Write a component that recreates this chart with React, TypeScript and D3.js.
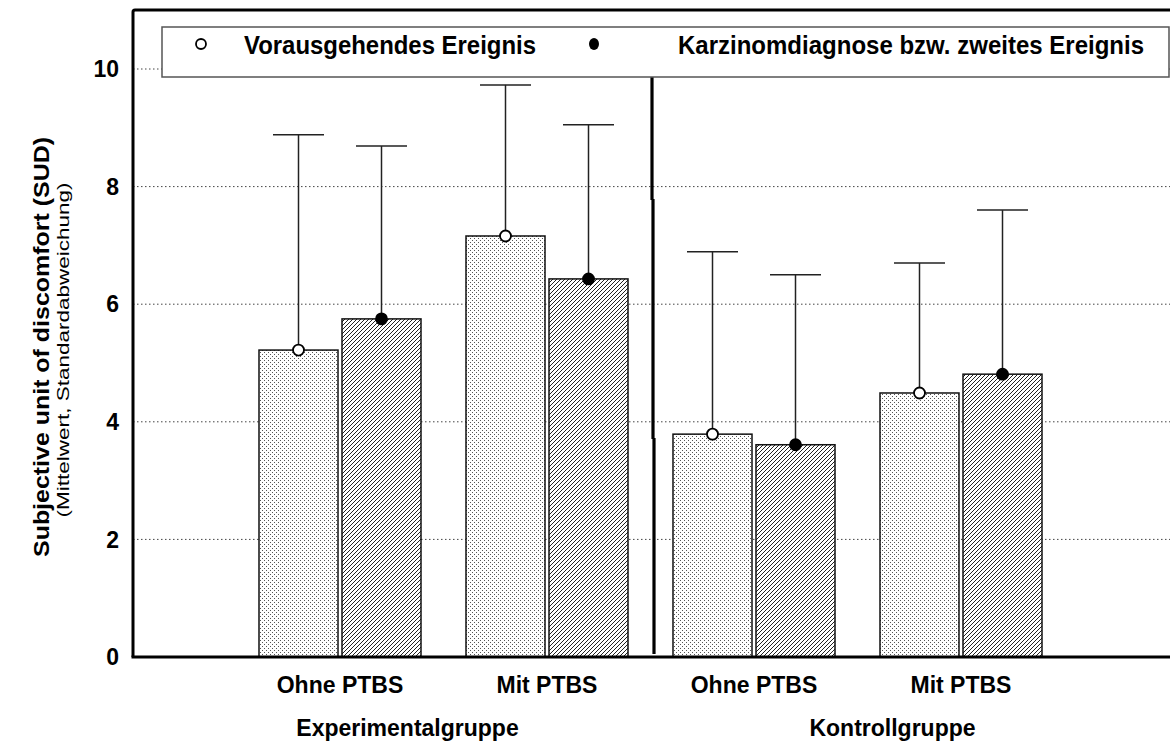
import React from "react";
import * as d3 from "d3";

const categories = ["Ohne PTBS", "Mit PTBS", "Ohne PTBS", "Mit PTBS"];
const groups = ["Experimentalgruppe", "Kontrollgruppe"];
const seriesNames = ["Vorausgehendes Ereignis", "Karzinomdiagnose bzw. zweites Ereignis"];
const preMean = [5.22, 7.16, 3.79, 4.49];
const preSD = [3.66, 2.57, 3.1, 2.21];
const postMean = [5.75, 6.43, 3.61, 4.81];
const postSD = [2.94, 2.62, 2.89, 2.79];
const yTicks = [0, 2, 4, 6, 8, 10];

const W = 1170;
const H = 747;
const left = 133;
const top = 10;
const bottom = 657;
const FONT = "'Liberation Sans', Arial, sans-serif";

export default function App() {
  const y = d3.scaleLinear().domain([0, 10]).range([bottom, 69]);
  const x = d3.scaleLinear().domain([0, 5]).range([left, 1168]);
  const barW = 79;
  const gap = 2;
  const cap = 51;

  const bars: any[] = [];
  categories.forEach((c, i) => {
    const cx = x(i + 1);
    bars.push({ x0: cx - gap - barW, mean: preMean[i], sd: preSD[i], kind: "pre", key: "pre" + i });
    bars.push({ x0: cx + gap, mean: postMean[i], sd: postSD[i], kind: "post", key: "post" + i });
  });

  const divX = x(2.5);
  const groupOffsets = [-36, 35];

  return (
    <svg
      width={W}
      height={H}
      style={{ position: "absolute", left: 0, top: 0, background: "#fff" }}
      fontFamily={FONT}
    >
      <defs>
        <pattern id="dots" width="4" height="4" patternUnits="userSpaceOnUse">
          <rect width="4" height="4" fill="#fff" />
          <rect x="0" y="0" width="1" height="1" fill="#555" />
          <rect x="2" y="2" width="1" height="1" fill="#555" />
        </pattern>
        <pattern id="hatch" width="4" height="4" patternUnits="userSpaceOnUse">
          <rect width="4" height="4" fill="#fff" />
          <path d="M-1,1 l2,-2 M0,4 l4,-4 M3,5 l2,-2" stroke="#222" strokeWidth="1" />
        </pattern>
      </defs>
      <rect width={W} height={H} fill="#fff" />

      {/* gridlines */}
      {yTicks.filter((t) => t > 0).map((t) => (
        <line
          key={"g" + t}
          x1={left}
          x2={W}
          y1={y(t)}
          y2={y(t)}
          stroke="#444"
          strokeWidth={1}
          strokeDasharray="1.5,2.5"
        />
      ))}

      {/* bars */}
      {bars.map((b) => (
        <rect
          key={b.key}
          x={b.x0}
          y={y(b.mean)}
          width={barW}
          height={bottom - y(b.mean)}
          fill={b.kind === "pre" ? "url(#dots)" : "url(#hatch)"}
          stroke="#111"
          strokeWidth={1.5}
        />
      ))}

      {/* error bars */}
      {bars.map((b) => {
        const cx = b.x0 + barW / 2;
        return (
          <g key={"e" + b.key} stroke="#222" strokeWidth={1.5}>
            <line x1={cx} x2={cx} y1={y(b.mean)} y2={y(b.mean + b.sd)} />
            <line x1={cx - cap / 2} x2={cx + cap / 2} y1={y(b.mean + b.sd)} y2={y(b.mean + b.sd)} />
          </g>
        );
      })}

      {/* markers */}
      {bars.map((b) => (
        <circle
          key={"m" + b.key}
          cx={b.x0 + barW / 2}
          cy={y(b.mean)}
          r={5.5}
          fill={b.kind === "pre" ? "#fff" : "#000"}
          stroke="#000"
          strokeWidth={1.8}
        />
      ))}

      {/* divider */}
      <g stroke="#000" strokeWidth={3.2}>
        <line x1={divX + 1.5} x2={divX + 1.5} y1={77} y2={200} />
        <line x1={divX + 2.5} x2={divX + 2.5} y1={199} y2={439} />
        <line x1={divX + 3.5} x2={divX + 3.5} y1={438} y2={654} />
      </g>

      {/* legend */}
      <rect x={162} y={27} width={1007} height={50} fill="#fff" stroke="#555" strokeWidth={1.5} />
      <circle cx={201} cy={44} r={5} fill="#fff" stroke="#000" strokeWidth={1.8} />
      <text
        x={244}
        y={54}
        fontSize={25}
        fontWeight="bold"
        fill="#000"
        textLength={292}
        lengthAdjust="spacingAndGlyphs"
      >
        {seriesNames[0]}
      </text>
      <ellipse cx={594} cy={44} rx={5} ry={6} fill="#000" />
      <text
        x={678}
        y={54}
        fontSize={25}
        fontWeight="bold"
        fill="#000"
        textLength={466}
        lengthAdjust="spacingAndGlyphs"
      >
        {seriesNames[1]}
      </text>

      {/* frame */}
      <path
        d={`M${left},${bottom} L${left},${top + 2} Q${left},${top} ${left + 2},${top} L${W},${top}`}
        fill="none"
        stroke="#000"
        strokeWidth={3}
      />
      <line x1={left - 1.5} x2={W} y1={bottom} y2={bottom} stroke="#000" strokeWidth={3} />

      {/* y ticks */}
      {yTicks.map((t) => (
        <text
          key={"t" + t}
          x={119}
          y={y(t)}
          dy="0.36em"
          textAnchor="end"
          fontSize={23}
          fontWeight="bold"
          fill="#000"
        >
          {t}
        </text>
      ))}

      {/* y title */}
      <text
        transform={`translate(49,347) rotate(-90)`}
        textAnchor="middle"
        fontSize={22}
        fontWeight="bold"
        fill="#000"
        textLength={420}
        lengthAdjust="spacingAndGlyphs"
      >
        Subjective unit of discomfort (SUD)
      </text>
      <text
        transform={`translate(69,350) rotate(-90)`}
        textAnchor="middle"
        fontSize={17}
        fill="#000"
        textLength={335}
        lengthAdjust="spacingAndGlyphs"
      >
        (Mittelwert, Standardabweichung)
      </text>

      {/* x labels */}
      {categories.map((c, i) => (
        <text
          key={"c" + i}
          x={x(i + 1)}
          y={693}
          textAnchor="middle"
          fontSize={23}
          fontWeight="bold"
          fill="#000"
        >
          {c}
        </text>
      ))}
      {groups.map((g, i) => (
        <text
          key={"gr" + i}
          x={x(1.5 + 2 * i) + groupOffsets[i]}
          y={736}
          textAnchor="middle"
          fontSize={23}
          fontWeight="bold"
          fill="#000"
        >
          {g}
        </text>
      ))}
    </svg>
  );
}
